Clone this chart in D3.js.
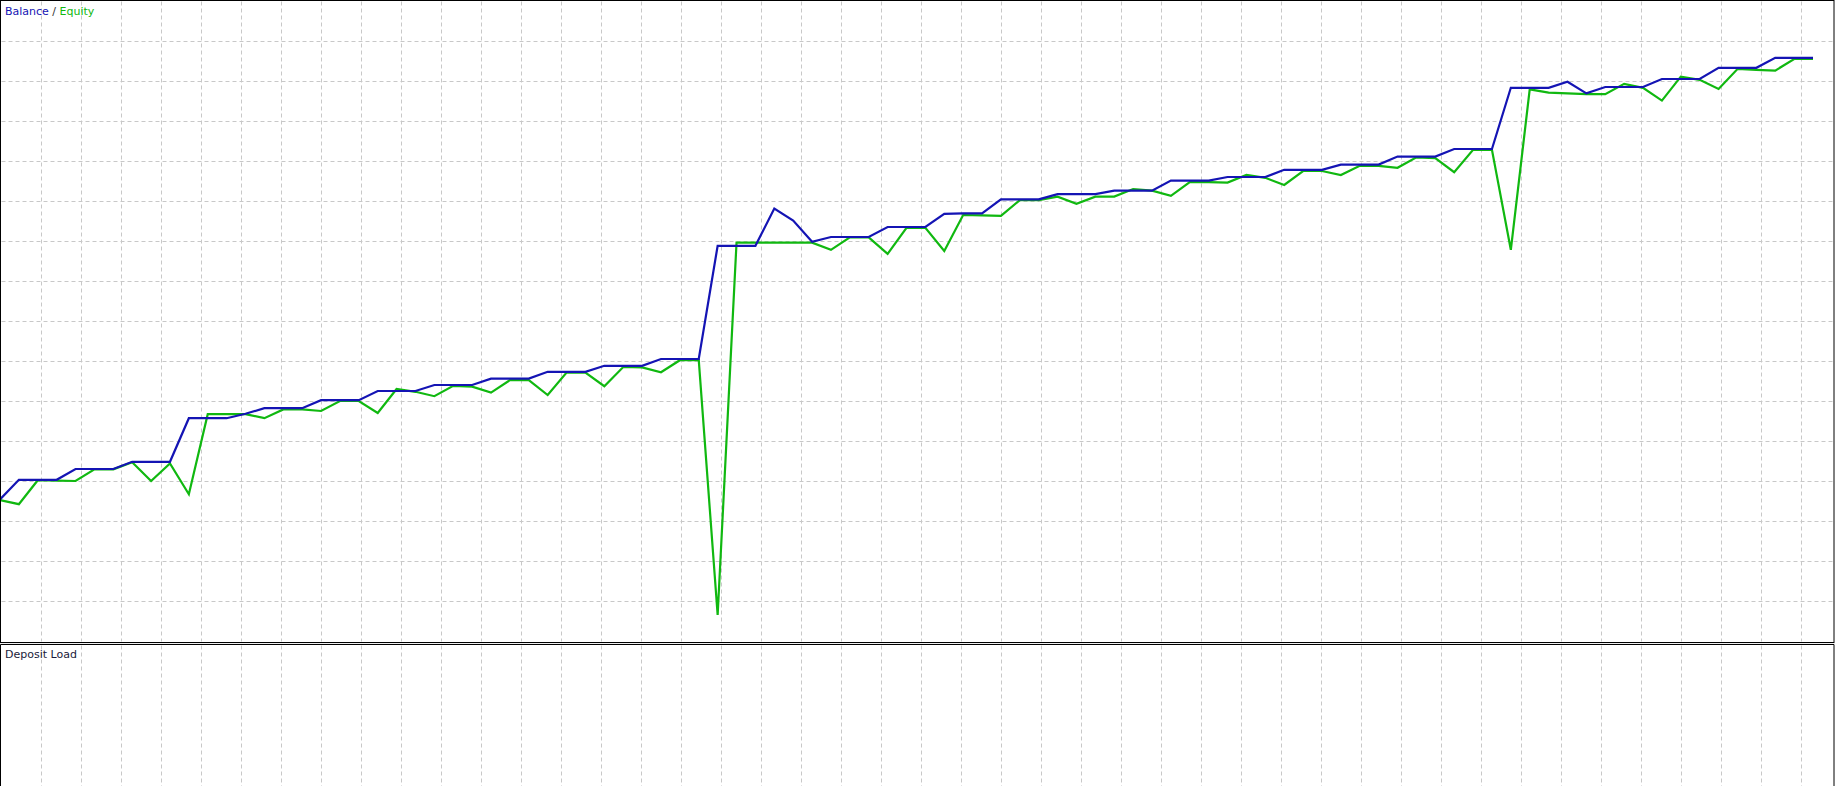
<!DOCTYPE html>
<html>
<head>
<meta charset="utf-8">
<script src="https://cdn.jsdelivr.net/npm/d3@7"></script>
<style>
  body { margin: 0; background: #fff; overflow: hidden; }
  svg { display: block; }
  text { font-family: "DejaVu Sans", sans-serif; font-size: 11px; }
</style>
</head>
<body>
<div id="chart"></div>
<script>
// trade number 0..96
var balance = [354,403,403,403,430,430,430,448,448,448,557,557,557,568,582,582,582,602,602,602,
  625,625,625,640,640,640,656,656,656,673,673,673,688,688,688,705,705,705,988,988,
  988,1081,1051,998,1010,1010,1010,1035,1035,1035,1068,1069,1069,1104,1104,1104,1117,1117,1117,1126,
  1126,1126,1151,1151,1151,1160,1160,1160,1178,1178,1178,1191,1191,1191,1211,1211,1211,1230,1230,1230,
  1383,1383,1383,1398,1369,1385,1385,1385,1405,1405,1405,1433,1433,1433,1458,1458,1458]
var equity = [352,342,402,401,400,429,429,447,400,444,367,567,567,567,557,579,579,575,600,600,
  570,630,623,612,638,636,621,652,652,615,671,671,637,685,684,672,702,702,65,996,
  996,996,996,996,978,1009,1009,968,1033,1033,975,1065,1064,1063,1102,1102,1111,1093,1111,1111,
  1130,1126,1113,1147,1147,1146,1165,1158,1140,1175,1175,1165,1188,1188,1183,1209,1207,1172,1228,1228,
  978,1379,1371,1369,1367,1367,1393,1383,1351,1411,1403,1380,1430,1428,1426,1455,1455]
var gridValues = d3.range(100, 1600, 100)
var titleParts = [["Balance", "#1414b4"], [" / ", "#333"], ["Equity", "#10b810"]]
var subTitle = "Deposit Load"

var width = 1835, height = 786
var mainBottom = 641, subTop = 644

var svg = d3.select("#chart").append("svg").attr("width", width).attr("height", height)

var x = d3.scaleLinear().domain([0, balance.length - 1]).range([0, 1813])
var y = d3.scaleLinear().domain([0, 1602.5]).range([mainBottom, 0])

// pixel grid, like the terminal draws it
var gridX = d3.range(41, width - 1, 40)

var grid = svg.append("g").attr("transform", "translate(0.5,0.5)")
  .attr("stroke", "#c8c8c8").attr("stroke-dasharray", "4,3")

grid.selectAll("line.h").data(gridValues).enter().append("line")
  .attr("class", "h")
  .attr("x1", 1).attr("x2", width - 2)
  .attr("y1", function(d){ return y(d) }).attr("y2", function(d){ return y(d) })

grid.selectAll("line.v").data(gridX).enter().append("line")
  .attr("class", "v")
  .attr("x1", function(d){ return d }).attr("x2", function(d){ return d })
  .attr("y1", 1).attr("y2", mainBottom)

grid.selectAll("line.vs").data(gridX).enter().append("line")
  .attr("class", "vs")
  .attr("x1", function(d){ return d }).attr("x2", function(d){ return d })
  .attr("y1", subTop + 1).attr("y2", height)

// gap between the two panels
svg.append("rect").attr("x", 0).attr("y", mainBottom + 2).attr("width", width).attr("height", 1)
  .attr("fill", "#ececec")

var line = function(arr){
  return d3.line()
    .x(function(d, i){ return x(i) })
    .y(function(d){ return y(d) })(arr)
}

svg.append("path").attr("d", line(equity))
  .attr("fill", "none").attr("stroke", "#10b810").attr("stroke-width", 2.2)
svg.append("path").attr("d", line(balance))
  .attr("fill", "none").attr("stroke", "#1414b4").attr("stroke-width", 2.2)

// panel frames
svg.append("rect").attr("x", 0.5).attr("y", 0.5).attr("width", width - 1.5).attr("height", mainBottom + 1)
  .attr("fill", "none").attr("stroke", "#000").attr("stroke-width", 1)
svg.append("path").attr("d", "M0.5," + (height + 2) + "V" + (subTop + 0.5) + "H" + (width - 1) + "V" + (height + 2))
  .attr("fill", "none").attr("stroke", "#000").attr("stroke-width", 1)

var title = svg.append("text").attr("x", 5).attr("y", 14.5)
title.selectAll("tspan").data(titleParts).enter().append("tspan")
  .attr("fill", function(d){ return d[1] })
  .style("white-space", "pre")
  .text(function(d){ return d[0] })

svg.append("text").attr("x", 5).attr("y", 658).attr("fill", "#1a1a3a").text(subTitle)
</script>
</body>
</html>
